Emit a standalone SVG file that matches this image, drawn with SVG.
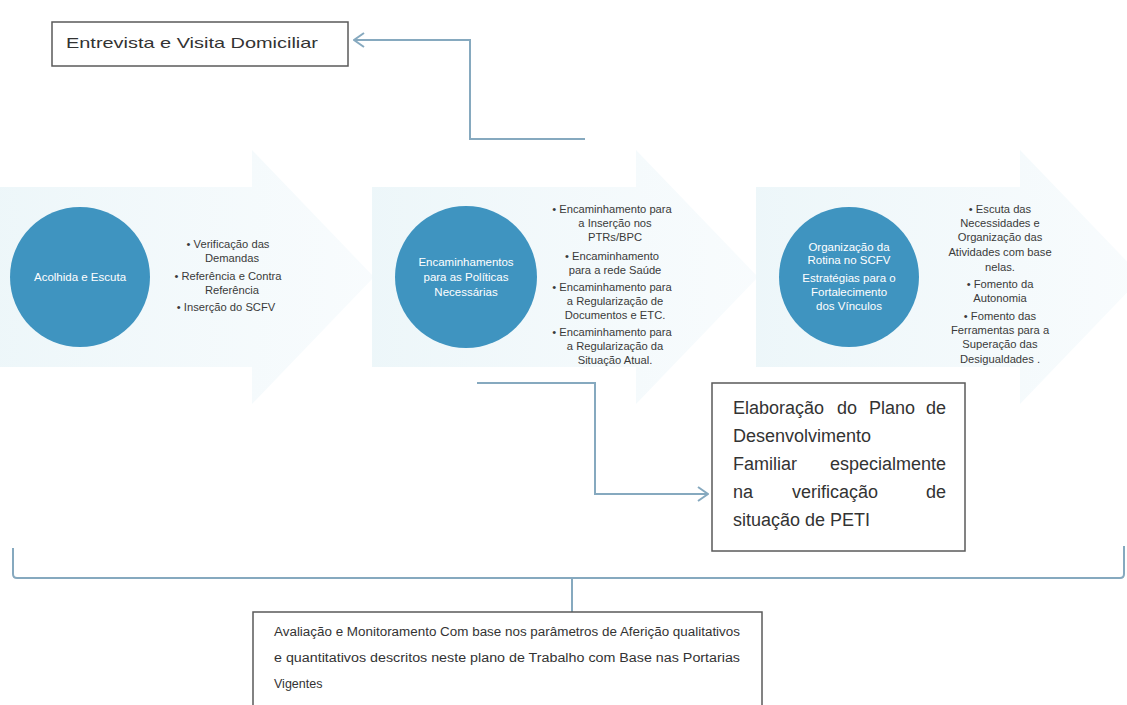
<svg xmlns="http://www.w3.org/2000/svg" width="1127" height="705" viewBox="0 0 1127 705">
<style>
.box{fill:#ffffff;stroke:#5a5a5a;stroke-width:1.5}
.conn{fill:none;stroke:#86a9bf;stroke-width:2}
.circ{fill:#3f94c0}
.ct{font-family:"Liberation Sans",Arial,sans-serif;font-size:11.5px;fill:#ffffff;text-anchor:middle}
.bt{font-family:"Liberation Sans",Arial,sans-serif;font-size:11.2px;fill:#3a3a3a;text-anchor:middle}
.lt{font-family:"Liberation Sans",Arial,sans-serif;fill:#333333}
.end{text-anchor:end}
</style>
<defs>
<linearGradient id="ag" x1="0" y1="0" x2="1" y2="0">
<stop offset="0" stop-color="#ecf6f9" stop-opacity="0.95"/>
<stop offset="1" stop-color="#f7fbfd" stop-opacity="0.85"/>
</linearGradient>
<marker id="open" viewBox="0 0 12 16" refX="11" refY="8" markerWidth="12" markerHeight="16" markerUnits="userSpaceOnUse" orient="auto">
<path d="M1,1 L11,8 L1,15" fill="none" stroke="#86a9bf" stroke-width="2"/>
</marker>
</defs>
<rect width="1127" height="705" fill="#ffffff"/>

<g id="chevrons">
<polygon points="-12,187 252,187 252,150 374,277 252,404 252,367 -12,367" fill="url(#ag)"/>
<polygon points="372,187 636,187 636,150 758,277 636,404 636,367 372,367" fill="url(#ag)"/>
<polygon points="756,187 1020,187 1020,150 1142,277 1020,404 1020,367 756,367" fill="url(#ag)"/>
</g>

<g id="connectors">
<path class="conn" d="M585,139 L470,139 L470,40 L354,40" marker-end="url(#open)"/>
<path class="conn" d="M477,383 L595,383 L595,494 L708,494" marker-end="url(#open)"/>
<path class="conn" d="M13,548 L13,574 Q13,578 17,578 L1120,578 Q1124,578 1124,574 L1124,546"/>
<path class="conn" d="M572,578 L572,612"/>
</g>

<g id="node-entrevista">
<rect class="box" x="52" y="22" width="296" height="44"/>
<text class="lt" x="66" y="48" font-size="15" textLength="252" lengthAdjust="spacingAndGlyphs">Entrevista e Visita Domiciliar</text>
</g>

<g id="node-acolhida">
<circle class="circ" cx="80" cy="277" r="70"/>
<text class="ct" x="80" y="281">Acolhida e Escuta</text>
<text class="bt"><tspan x="228" y="248">• Verificação das</tspan><tspan x="232" y="262">Demandas</tspan><tspan x="228" y="280">•  Referência e Contra</tspan><tspan x="232" y="294">Referência</tspan><tspan x="226" y="311">• Inserção do SCFV</tspan></text>
</g>

<g id="node-encaminhamento">
<circle class="circ" cx="466" cy="277" r="71"/>
<text class="ct"><tspan x="466" y="266">Encaminhamentos</tspan><tspan x="466" y="281">para as Políticas</tspan><tspan x="466" y="296">Necessárias</tspan></text>
<text class="bt"><tspan x="612" y="213">• Encaminhamento para</tspan><tspan x="615" y="227">a Inserção nos</tspan><tspan x="615" y="241">PTRs/BPC</tspan><tspan x="612" y="260">• Encaminhamento</tspan><tspan x="615" y="274">para a rede Saúde</tspan><tspan x="612" y="291">• Encaminhamento para</tspan><tspan x="615" y="305">a Regularização de</tspan><tspan x="615" y="319">Documentos e ETC.</tspan><tspan x="612" y="336">• Encaminhamento para</tspan><tspan x="615" y="350">a Regularização da</tspan><tspan x="615" y="364">Situação Atual.</tspan></text>
</g>

<g id="node-organizacao">
<circle class="circ" cx="849" cy="277" r="70"/>
<text class="ct"><tspan x="849" y="251">Organização da</tspan><tspan x="849" y="264">Rotina no SCFV</tspan><tspan x="849" y="282">Estratégias para o</tspan><tspan x="849" y="296">Fortalecimento</tspan><tspan x="849" y="310">dos Vínculos</tspan></text>
<text class="bt"><tspan x="1000" y="213">• Escuta das</tspan><tspan x="1000" y="227">Necessidades e</tspan><tspan x="1000" y="241">Organização das</tspan><tspan x="1000" y="256">Atividades com base</tspan><tspan x="1000" y="271">nelas.</tspan><tspan x="1000" y="288">• Fomento da</tspan><tspan x="1000" y="302">Autonomia</tspan><tspan x="1000" y="320">• Fomento das</tspan><tspan x="1000" y="334">Ferramentas para a</tspan><tspan x="1000" y="348">Superação das</tspan><tspan x="1000" y="363">Desigualdades .</tspan></text>
</g>

<g id="node-elaboracao">
<rect class="box" x="712" y="383" width="253" height="168"/>
<g class="lt" font-size="18">
<text x="733" y="414">Elaboração</text>
<text x="837" y="414">do</text>
<text x="869" y="414">Plano</text>
<text class="end" x="946" y="414">de</text>
<text x="733" y="442">Desenvolvimento</text>
<text x="733" y="470">Familiar</text>
<text class="end" x="946" y="470">especialmente</text>
<text x="733" y="498">na</text>
<text x="792" y="498">verificação</text>
<text class="end" x="946" y="498">de</text>
<text x="733" y="526">situação de PETI</text>
</g>
</g>

<g id="node-avaliacao">
<rect class="box" x="253" y="612" width="509" height="100"/>
<text class="lt" font-size="12.5"><tspan x="274" y="636" textLength="466" lengthAdjust="spacingAndGlyphs">Avaliação e Monitoramento Com base nos parâmetros de Aferição qualitativos</tspan><tspan x="274" y="662" textLength="466" lengthAdjust="spacingAndGlyphs">e quantitativos descritos neste plano de Trabalho com Base nas Portarias</tspan><tspan x="274" y="688">Vigentes</tspan></text>
</g>
</svg>
